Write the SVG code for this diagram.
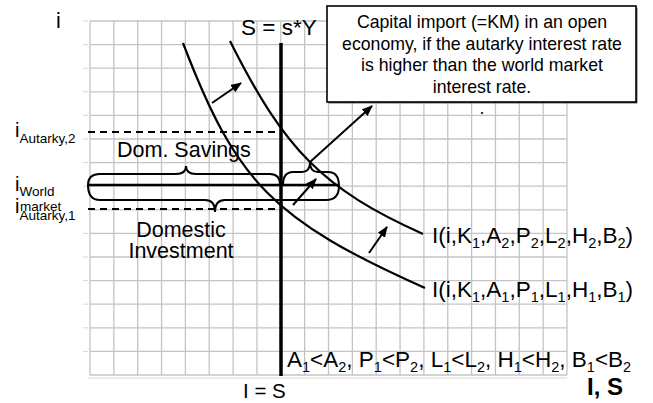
<svg xmlns="http://www.w3.org/2000/svg" width="653" height="403" viewBox="0 0 653 403">
<style>
  .grid line { stroke: #c4c4c4; stroke-width: 1.3; }
  .tick line { stroke: #d8d8d8; stroke-width: 1; }
  text { font-family: "Liberation Sans", Arial, sans-serif; fill: #000; }
  .lab { font-size: 22.5px; }
  .sub { font-size: 14.5px; }
  .ilab { font-size: 20px; }
  .isub { font-size: 13.5px; }
  .big { font-size: 21.5px; }
  .box { font-size: 17.7px; text-anchor: middle; }
  .curve { fill: none; stroke: #000; stroke-width: 2.2; }
  .brace { fill: none; stroke: #000; stroke-width: 2; }
  .arrow { fill: none; stroke: #000; stroke-width: 2; marker-end: url(#ah); }
  .dash { stroke: #000; stroke-width: 2; stroke-dasharray: 7 5; }
</style>
<defs>
  <marker id="ah" viewBox="0 0 10 8" refX="9" refY="4" markerWidth="11" markerHeight="9" markerUnits="userSpaceOnUse" orient="auto">
    <path d="M0,0 L10,4 L0,8 z" fill="#000"/>
  </marker>
</defs>
<rect width="653" height="403" fill="#fff"/>

<g id="grid" class="grid">
  <line x1="90" y1="21" x2="90" y2="375"/>
  <line x1="113.85" y1="21" x2="113.85" y2="375"/>
  <line x1="137.7" y1="21" x2="137.7" y2="375"/>
  <line x1="161.55" y1="21" x2="161.55" y2="375"/>
  <line x1="185.4" y1="21" x2="185.4" y2="375"/>
  <line x1="209.25" y1="21" x2="209.25" y2="375"/>
  <line x1="233.1" y1="21" x2="233.1" y2="375"/>
  <line x1="256.95" y1="21" x2="256.95" y2="375"/>
  <line x1="280.8" y1="21" x2="280.8" y2="375"/>
  <line x1="304.65" y1="21" x2="304.65" y2="375"/>
  <line x1="328.5" y1="21" x2="328.5" y2="375"/>
  <line x1="352.35" y1="21" x2="352.35" y2="375"/>
  <line x1="376.2" y1="21" x2="376.2" y2="375"/>
  <line x1="400.05" y1="21" x2="400.05" y2="375"/>
  <line x1="423.9" y1="21" x2="423.9" y2="375"/>
  <line x1="447.75" y1="21" x2="447.75" y2="375"/>
  <line x1="471.6" y1="21" x2="471.6" y2="375"/>
  <line x1="495.45" y1="21" x2="495.45" y2="375"/>
  <line x1="519.3" y1="21" x2="519.3" y2="375"/>
  <line x1="543.15" y1="21" x2="543.15" y2="375"/>
  <line x1="567" y1="21" x2="567" y2="375"/>
  <line x1="90" y1="21" x2="567" y2="21"/>
  <line x1="90" y1="44.6" x2="567" y2="44.6"/>
  <line x1="90" y1="68.2" x2="567" y2="68.2"/>
  <line x1="90" y1="91.8" x2="567" y2="91.8"/>
  <line x1="90" y1="115.4" x2="567" y2="115.4"/>
  <line x1="90" y1="139" x2="567" y2="139"/>
  <line x1="90" y1="162.6" x2="567" y2="162.6"/>
  <line x1="90" y1="186.2" x2="567" y2="186.2"/>
  <line x1="90" y1="209.8" x2="567" y2="209.8"/>
  <line x1="90" y1="233.4" x2="567" y2="233.4"/>
  <line x1="90" y1="257" x2="567" y2="257"/>
  <line x1="90" y1="280.6" x2="567" y2="280.6"/>
  <line x1="90" y1="304.2" x2="567" y2="304.2"/>
  <line x1="90" y1="327.8" x2="567" y2="327.8"/>
  <line x1="90" y1="351.4" x2="567" y2="351.4"/>
  <line x1="90" y1="375" x2="567" y2="375"/>
</g>
<g id="ticks" class="tick">
  <line x1="83" y1="21" x2="88" y2="21"/>
  <line x1="83" y1="44.6" x2="88" y2="44.6"/>
  <line x1="83" y1="68.2" x2="88" y2="68.2"/>
  <line x1="83" y1="91.8" x2="88" y2="91.8"/>
  <line x1="83" y1="115.4" x2="88" y2="115.4"/>
  <line x1="83" y1="139" x2="88" y2="139"/>
  <line x1="83" y1="162.6" x2="88" y2="162.6"/>
  <line x1="83" y1="186.2" x2="88" y2="186.2"/>
  <line x1="83" y1="233.4" x2="88" y2="233.4"/>
  <line x1="83" y1="257" x2="88" y2="257"/>
  <line x1="83" y1="280.6" x2="88" y2="280.6"/>
  <line x1="83" y1="304.2" x2="88" y2="304.2"/>
  <line x1="83" y1="327.8" x2="88" y2="327.8"/>
  <line x1="83" y1="351.4" x2="88" y2="351.4"/>
  <line x1="88" y1="378" x2="567" y2="378"/>
</g>

<g id="connectors">
  <line x1="281" y1="43" x2="281" y2="376" stroke="#000" stroke-width="3.5"/>
  <line class="dash" x1="88" y1="132" x2="281" y2="132"/>
  <line class="dash" x1="88" y1="209" x2="281" y2="209"/>
  <line x1="88" y1="185" x2="338" y2="185" stroke="#000" stroke-width="2.6"/>
  <path class="curve" d="M183,43 C236.5,183 273,220 425,288"/>
  <path class="curve" d="M230,41 C284.8,150.6 323.4,189.2 423,234"/>
  <path class="brace" d="M88,185 Q88,174 100,174 L176,174 Q186,174 186,166 Q186,174 196,174 L270,174 Q280,174 280,185"/>
  <path class="brace" d="M88,185 Q88,200 100,200 L205,200 Q215,200 215,212 Q215,200 225,200 L326,200 Q339,200 339,186"/>
  <path class="brace" d="M283,185 Q283,172 293,172 L302,172 Q310,172 310,162 Q310,172 318,172 L328,172 Q339,172 339,186"/>
  <line class="arrow" x1="212" y1="103" x2="241" y2="83"/>
  <line class="arrow" x1="293" y1="205" x2="316" y2="179"/>
  <line class="arrow" x1="369" y1="253" x2="387" y2="227"/>
  <line class="arrow" x1="310" y1="162" x2="372" y2="106"/>
</g>

<g id="note">
  <rect x="328.5" y="7.5" width="309" height="96" fill="#666"/>
  <rect x="327" y="6" width="309" height="96" fill="#fff" stroke="#000" stroke-width="1.6"/>
  <text class="box" x="482" y="28">Capital import (=KM) in an open</text>
  <text class="box" x="482" y="49.5">economy, if the autarky interest rate</text>
  <text class="box" x="482" y="71">is higher than the world market</text>
  <text class="box" x="482" y="92.5">interest rate.</text>
  <text class="box" x="482" y="114">.</text>
</g>

<g id="axis-i"><text class="big" x="56" y="28">i</text></g>
<g id="label-S"><text class="lab" x="241" y="35">S = s*Y</text></g>
<g id="label-iA2"><text class="ilab" x="15" y="137">i<tspan class="isub" dy="6">Autarky,2</tspan></text></g>
<g id="label-dom-savings"><text class="big" x="117" y="157">Dom. Savings</text></g>
<g id="label-iWorld">
  <text class="ilab" x="15" y="191">i<tspan class="isub" dy="5">World</tspan></text>
  <text class="isub" x="20" y="211">market</text>
</g>
<g id="label-iA1"><text class="ilab" x="15" y="213">i<tspan class="isub" dy="7">Autarky,1</tspan></text></g>
<g id="label-dom-inv">
  <text class="big" x="181" y="237" text-anchor="middle">Domestic</text>
  <text class="big" x="181" y="258" text-anchor="middle">Investment</text>
</g>
<g id="label-I2"><text class="lab" x="432" y="243">I(i,K<tspan class="sub" dy="5">1</tspan><tspan dy="-5">,A</tspan><tspan class="sub" dy="5">2</tspan><tspan dy="-5">,P</tspan><tspan class="sub" dy="5">2</tspan><tspan dy="-5">,L</tspan><tspan class="sub" dy="5">2</tspan><tspan dy="-5">,H</tspan><tspan class="sub" dy="5">2</tspan><tspan dy="-5">,B</tspan><tspan class="sub" dy="5">2</tspan><tspan dy="-5">)</tspan></text></g>
<g id="label-I1"><text class="lab" x="432" y="297">I(i,K<tspan class="sub" dy="5">1</tspan><tspan dy="-5">,A</tspan><tspan class="sub" dy="5">1</tspan><tspan dy="-5">,P</tspan><tspan class="sub" dy="5">1</tspan><tspan dy="-5">,L</tspan><tspan class="sub" dy="5">1</tspan><tspan dy="-5">,H</tspan><tspan class="sub" dy="5">1</tspan><tspan dy="-5">,B</tspan><tspan class="sub" dy="5">1</tspan><tspan dy="-5">)</tspan></text></g>
<g id="label-cond"><text class="lab" x="287" y="367">A<tspan class="sub" dy="5">1</tspan><tspan dy="-5">&lt;A</tspan><tspan class="sub" dy="5">2</tspan><tspan dy="-5">, P</tspan><tspan class="sub" dy="5">1</tspan><tspan dy="-5">&lt;P</tspan><tspan class="sub" dy="5">2</tspan><tspan dy="-5">, L</tspan><tspan class="sub" dy="5">1</tspan><tspan dy="-5">&lt;L</tspan><tspan class="sub" dy="5">2</tspan><tspan dy="-5">, H</tspan><tspan class="sub" dy="5">1</tspan><tspan dy="-5">&lt;H</tspan><tspan class="sub" dy="5">2</tspan><tspan dy="-5">, B</tspan><tspan class="sub" dy="5">1</tspan><tspan dy="-5">&lt;B</tspan><tspan class="sub" dy="5">2</tspan></text></g>
<g id="label-IeqS"><text x="243" y="398" font-size="20.5">I = S</text></g>
<g id="label-IS"><text x="587" y="395" font-size="24" font-weight="bold">I, S</text></g>
</svg>
